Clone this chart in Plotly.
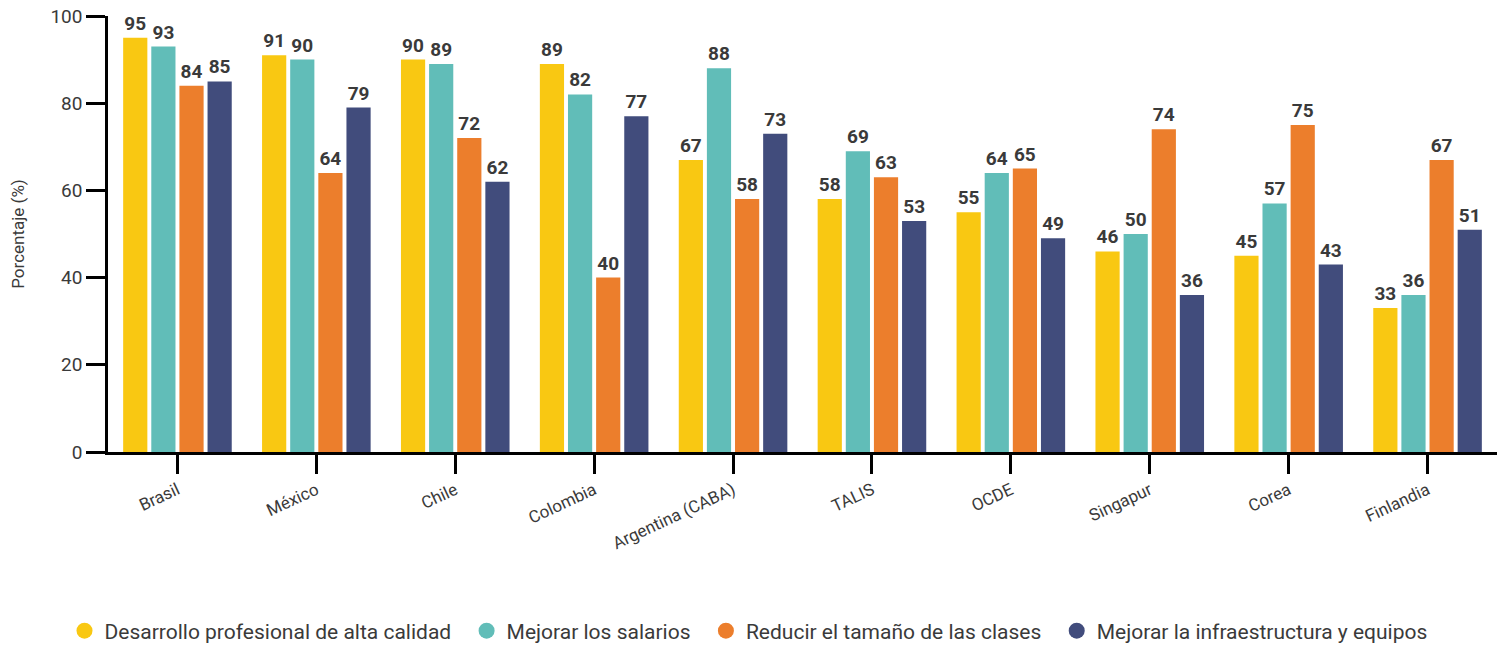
import plotly.graph_objects as go

paises = ["Brasil", "México", "Chile", "Colombia", "Argentina (CABA)",
          "TALIS", "OCDE", "Singapur", "Corea", "Finlandia"]

desarrollo = [95, 91, 90, 89, 67, 58, 55, 46, 45, 33]
salarios = [93, 90, 89, 82, 88, 69, 64, 50, 57, 36]
reducir = [84, 64, 72, 40, 58, 63, 65, 74, 75, 67]
infraestructura = [85, 79, 62, 77, 73, 53, 49, 36, 43, 51]

series = [
    ("Desarrollo profesional de alta calidad", desarrollo, "#F9C812"),
    ("Mejorar los salarios", salarios, "#61BDB8"),
    ("Reducir el tamaño de las clases", reducir, "#EC7E2C"),
    ("Mejorar la infraestructura y equipos", infraestructura, "#414C7C"),
]

fig = go.Figure()

for nombre, valores, color in series:
    fig.add_trace(go.Bar(
        x=paises, y=valores, name=nombre,
        marker_color=color, marker_line_width=0,
        text=valores, textposition="outside", cliponaxis=False,
        constraintext="none",
        textfont=dict(family="Roboto", size=19, color="#3a3a3a", weight="bold"),
        showlegend=False,
    ))

# legend-only traces so the legend shows circles (nbsp padding for spacing)
for nombre, valores, color in series:
    fig.add_trace(go.Scatter(
        x=[None], y=[None], mode="markers",
        name=nombre + "\u00a0" * 2,
        marker=dict(color=color, size=24, symbol="circle"),
    ))

# the page body adds an 8px margin, so the figure is 8px smaller
fig.update_layout(
    width=1501, height=637,
    margin=dict(l=100, r=12, t=8, b=193),
    plot_bgcolor="white", paper_bgcolor="white",
    font=dict(family="Roboto", color="#3a3a3a"),
    barmode="group", bargap=0.19, bargroupgap=0.14,
    legend=dict(orientation="h", xref="container", yref="container",
                x=0.497, xanchor="center", y=0.022, yanchor="middle",
                font=dict(size=21, color="#3a3a3a"), itemsizing="trace",
                itemwidth=30, tracegroupgap=0),
)

fig.update_xaxes(
    automargin=False,
    showline=True, linecolor="black", linewidth=2.5,
    ticks="outside", ticklen=19, tickwidth=2.5, tickcolor="black",
    tickangle=-25, tickfont=dict(size=17, color="#3a3a3a"),
    showgrid=False,
)
fig.update_yaxes(
    automargin=False, ticklabeloverflow="allow",
    range=[0, 100], tickvals=[0, 20, 40, 60, 80, 100],
    showline=True, linecolor="black", linewidth=2.5,
    ticks="outside", ticklen=19, tickwidth=2.5, tickcolor="black",
    tickfont=dict(size=19, color="#3a3a3a"),
    showgrid=False, zeroline=False,
    title=dict(text="Porcentaje (%)", font=dict(size=17, color="#3a3a3a"), standoff=30),
)

fig.write_html("out.html")
